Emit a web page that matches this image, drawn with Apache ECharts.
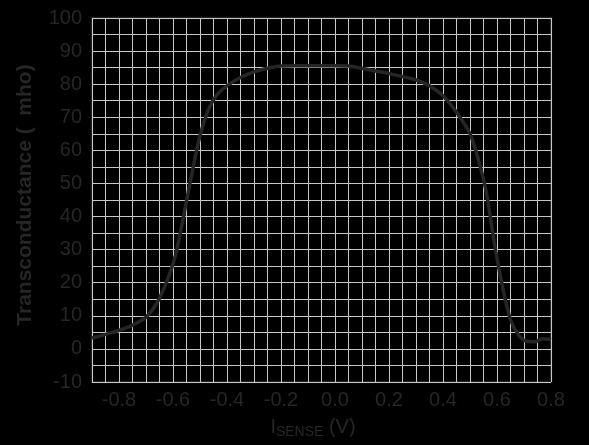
<!DOCTYPE html>
<html>
<head>
<meta charset="utf-8">
<script src="https://cdn.jsdelivr.net/npm/echarts@6/dist/echarts.min.js"></script>
<style>
html,body{margin:0;padding:0;background:#000;}
#chart{width:589px;height:445px;}
</style>
</head>
<body>
<div id="chart"></div>
<script>
const xValues = [-0.9, -0.85, -0.8, -0.75, -0.7, -0.66, -0.62, -0.59, -0.56, -0.53, -0.5, -0.47, -0.44, -0.4, -0.35, -0.3, -0.25, -0.2, -0.15, -0.1, -0.05, 0, 0.05, 0.1, 0.15, 0.2, 0.25, 0.3, 0.35, 0.4, 0.45, 0.5, 0.53, 0.56, 0.59, 0.62, 0.65, 0.68, 0.71, 0.74, 0.77, 0.8];
const gmValues = [3.3, 4.4, 5.6, 7.2, 9.6, 13.8, 21, 28.5, 40.5, 53, 64.5, 72, 76.5, 79.5, 82, 83.7, 84.8, 85.5, 85.6, 85.6, 85.6, 85.6, 85.5, 84.8, 84, 83.2, 82.3, 81.3, 79.5, 76.5, 71.5, 65, 57.5, 47.5, 32, 19, 8.8, 4.2, 2.3, 2.2, 3.1, 2.8];
const xTickLabels = [-0.8, -0.6, -0.4, -0.2, 0.0, 0.2, 0.4, 0.6, 0.8];
const yTickLabels = [-10, 0, 10, 20, 30, 40, 50, 60, 70, 80, 90, 100];
const yTitle = 'Transconductance (  mho)';
const xTitleMain = 'I';
const xTitleSub = 'SENSE';
const xTitleUnit = ' (V)';

const textColor = '#262626';
const fontFam = '"Liberation Sans", Arial, Helvetica, sans-serif';

const chart = echarts.init(document.getElementById('chart'), null, {renderer: 'canvas'});
const data = xValues.map((x, i) => [x, gmValues[i]]);

chart.setOption({
  backgroundColor: '#000',
  animation: false,
  grid: {left: 92, right: 38, top: 18, bottom: 63, show: true, borderColor: '#222', borderWidth: 2.5, backgroundColor: 'transparent'},
  xAxis: {
    type: 'value', min: -0.9, max: 0.8, interval: 0.05,
    axisLine: {show: false}, axisTick: {show: false},
    splitLine: {show: true, lineStyle: {color: '#c8c8c8', width: 1}},
    axisLabel: {
      color: textColor, fontSize: 20, fontFamily: fontFam, margin: 8,
      showMinLabel: true, showMaxLabel: true,
      formatter: v => {
        const k = Math.round(v * 100);
        const match = xTickLabels.find(t => Math.round(t * 100) === k);
        return match === undefined ? '' : match.toFixed(1);
      }
    }
  },
  yAxis: {
    type: 'value', min: -10, max: 100, interval: 5,
    axisLine: {show: false}, axisTick: {show: false},
    splitLine: {show: true, lineStyle: {color: '#c8c8c8', width: 1}},
    axisLabel: {
      color: textColor, fontSize: 20, fontFamily: fontFam, margin: 10,
      formatter: v => yTickLabels.indexOf(Math.round(v)) >= 0 && Math.abs(v - Math.round(v)) < 1e-6 ? String(Math.round(v)) : ''
    }
  },
  series: [{
    type: 'line', data: data, smooth: 0.3, showSymbol: false,
    lineStyle: {color: '#262626', width: 3.5}
  }],
  graphic: [
    {
      type: 'text', x: 25, y: 195, rotation: Math.PI / 2,
      style: {text: yTitle, fill: textColor, font: 'bold 21px ' + fontFam, align: 'center', verticalAlign: 'middle'}
    },
    {
      type: 'text', x: 313, y: 426,
      style: {
        text: '{a|' + xTitleMain + '}{b|' + xTitleSub + '}{a|' + xTitleUnit + '}',
        align: 'center', verticalAlign: 'middle',
        rich: {
          a: {fill: textColor, fontSize: 20, fontFamily: fontFam, verticalAlign: 'bottom', lineHeight: 22},
          b: {fill: textColor, fontSize: 14, fontFamily: fontFam, verticalAlign: 'bottom', lineHeight: 22, padding: [0, 0, -2, 0]}
        }
      }
    }
  ]
});
</script>
</body>
</html>
